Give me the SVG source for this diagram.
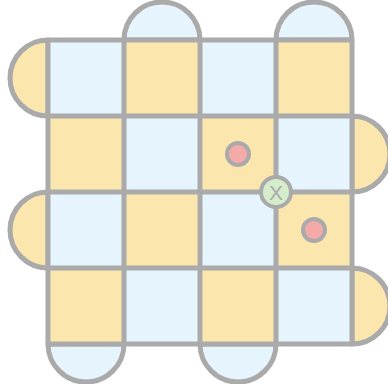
<svg xmlns="http://www.w3.org/2000/svg" width="388" height="384" viewBox="0 0 388 384">
<style>
.b{fill:#E6F4FE}
.y{fill:#FBE7AE}
.s{stroke:#AAAAAA;stroke-width:5;stroke-linejoin:round}
.dot{fill:#F5AAAA;stroke:#AAAAAA;stroke-width:4}
.gl{fill:none;stroke:#AAAAAA;stroke-width:5;stroke-linecap:round}
</style>
<rect width="388" height="384" fill="#FFFFFF"/>
<g id="semicircles">
<path class="b s" d="M124,40 A38,38 0 0 1 200,40 Z"/>
<path class="b s" d="M276,40 A38,38 0 0 1 352,40 Z"/>
<path class="b s" d="M48,344 A38,38 0 0 0 124,344 Z"/>
<path class="b s" d="M200,344 A38,38 0 0 0 276,344 Z"/>
<path class="y s" d="M48,40 A38,38 0 0 0 48,116 Z"/>
<path class="y s" d="M48,192 A38,38 0 0 0 48,268 Z"/>
<path class="y s" d="M352,116 A38,38 0 0 1 352,192 Z"/>
<path class="y s" d="M352,268 A38,38 0 0 1 352,344 Z"/>
</g>
<g id="cells">
<rect class="b" x="48" y="40" width="76" height="76"/>
<rect class="y" x="124" y="40" width="76" height="76"/>
<rect class="b" x="200" y="40" width="76" height="76"/>
<rect class="y" x="276" y="40" width="76" height="76"/>
<rect class="y" x="48" y="116" width="76" height="76"/>
<rect class="b" x="124" y="116" width="76" height="76"/>
<rect class="y" x="200" y="116" width="76" height="76"/>
<rect class="b" x="276" y="116" width="76" height="76"/>
<rect class="b" x="48" y="192" width="76" height="76"/>
<rect class="y" x="124" y="192" width="76" height="76"/>
<rect class="b" x="200" y="192" width="76" height="76"/>
<rect class="y" x="276" y="192" width="76" height="76"/>
<rect class="y" x="48" y="268" width="76" height="76"/>
<rect class="b" x="124" y="268" width="76" height="76"/>
<rect class="y" x="200" y="268" width="76" height="76"/>
<rect class="b" x="276" y="268" width="76" height="76"/>
</g>
<g id="gridlines">
<path class="gl" d="M48,40V344M124,40V344M200,40V344M276,40V344M352,40V344M48,40H352M48,116H352M48,192H352M48,268H352M48,344H352"/>
</g>
<g id="dot1"><circle class="dot" cx="238" cy="154" r="11"/></g>
<g id="dot2"><circle class="dot" cx="314" cy="230" r="11"/></g>
<g id="cross">
<circle cx="276" cy="192" r="15" fill="#D5EDCB" stroke="#AAAAAA" stroke-width="4"/>
<text x="276" y="200" text-anchor="middle" font-family="Liberation Sans, Arial, sans-serif" font-size="21" fill="#AAAAAA">X</text>
</g>
</svg>
